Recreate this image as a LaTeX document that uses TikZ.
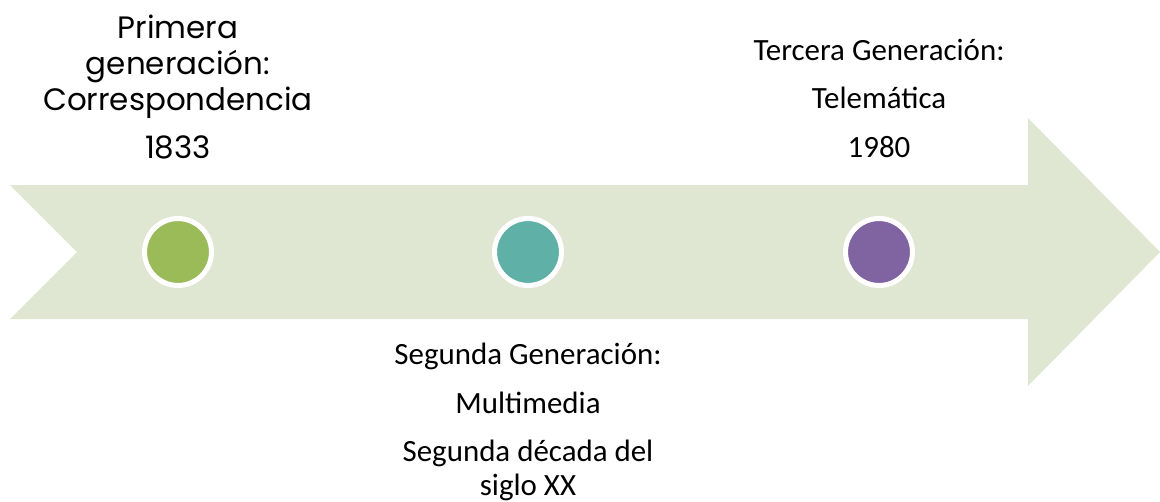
\documentclass[tikz,border=0pt]{standalone}
\usepackage{fontspec}
\setmainfont{Carlito}
\newfontfamily\gothic{Poppins}
\usetikzlibrary{positioning}

\definecolor{pfeil}{HTML}{DFE7D2}
\definecolor{gruen}{HTML}{9BBB59}
\definecolor{tuerkis}{HTML}{5FB0A6}
\definecolor{lila}{HTML}{8064A2}

\tikzset{
  punkt/.style={circle,draw=white,line width=2.85pt,minimum size=38.1pt,inner sep=0pt},
  etikett/.style={align=center,anchor=base,inner sep=0pt,font=\fontsize{17.6}{18.8}\selectfont}
}

\begin{document}
\begin{tikzpicture}[x=0.02cm,y=-0.02cm]
\useasboundingbox (0,0) rectangle (1160,501);
%Pfeil
\fill[pfeil] (10,185) -- (1028,185) -- (1028,118) -- (1160,252) -- (1028,386) -- (1028,319) -- (10,319) -- (77,252) -- cycle;
%Punkte
\node[punkt,fill=gruen] (c1) at (178,252) {};
\node[punkt,fill=tuerkis] (c2) at (528,252) {};
\node[punkt,fill=lila] (c3) at (879,252) {};
%Beschriftungen (Anker an der letzten Zeile)
\node[etikett,font=\gothic\fontsize{17.6}{20.5}\selectfont] (t1) at (178,158) {Primera\\generación:\\Correspondencia\\[6.8pt]1833};
\node[etikett] (t2) at (528,495) {Segunda Generación:\\[8.8pt]Multimedia\\[8.8pt]Segunda década del\\siglo XX};
\node[etikett] (t3) at (879,157) {Tercera Generación:\\[8.8pt]Telemática\\[8.8pt]1980};
\end{tikzpicture}
\end{document}
